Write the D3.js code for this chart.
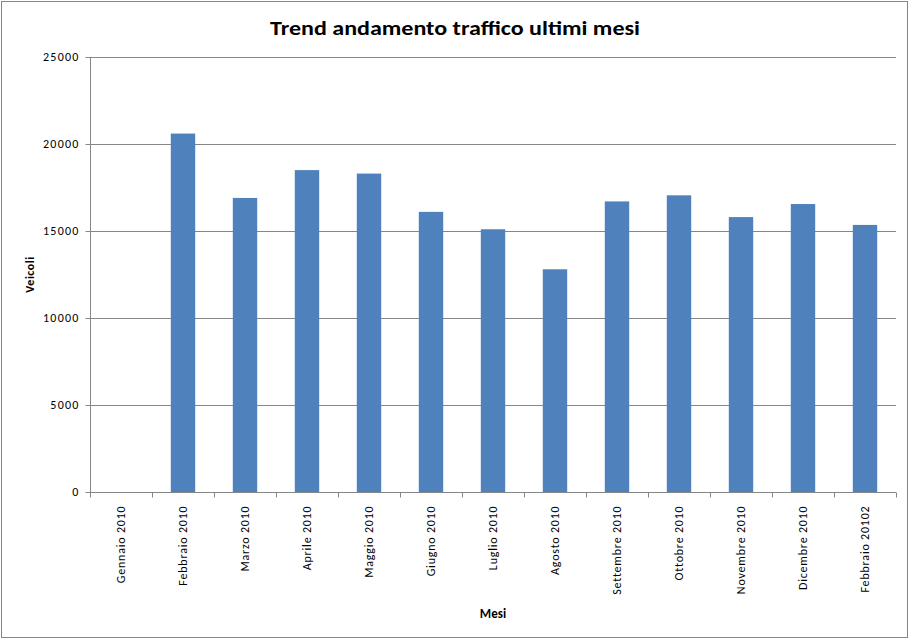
<!DOCTYPE html>
<html>
<head>
<meta charset="utf-8">
<script src="https://cdn.jsdelivr.net/npm/d3@7"></script>
<style>
  html, body { margin: 0; padding: 0; background: #fff; }
  svg { display: block; }
</style>
</head>
<body>
<svg id="chart" width="912" height="640"></svg>
<script>
const categories = ["Gennaio 2010", "Febbraio 2010", "Marzo 2010", "Aprile 2010", "Maggio 2010",
  "Giugno 2010", "Luglio 2010", "Agosto 2010", "Settembre 2010", "Ottobre 2010",
  "Novembre 2010", "Dicembre 2010", "Febbraio 20102"];
const veicoli = [0, 20600, 16900, 18500, 18300, 16100, 15100, 12800, 16700, 17050, 15800, 16550, 15350];
const yTicks = [0, 5000, 10000, 15000, 20000, 25000];
const titleText = "Trend andamento traffico ultimi mesi";
const yTitle = "Veicoli";
const xTitle = "Mesi";

const svg = d3.select("#chart");
const font = "Calibri, Carlito, 'Open Sans', 'Liberation Sans', sans-serif";
const m = { left: 90, right: 896, top: 57, bottom: 492 };

// chart border
svg.append("rect").attr("x", 1.5).attr("y", 1.5).attr("width", 906).attr("height", 636)
  .attr("fill", "#fff").attr("stroke", "#868686").attr("stroke-width", 1);

const xTick = d3.scaleBand().domain(categories).range([m.left, m.right]);
const y = d3.scaleLinear().domain([0, 25000]).range([m.bottom, m.top]);

// gridlines
svg.append("g").selectAll("line").data(yTicks.filter(d => d > 0)).join("line")
  .attr("x1", m.left).attr("x2", m.right)
  .attr("y1", d => Math.round(y(d)) + 0.5).attr("y2", d => Math.round(y(d)) + 0.5)
  .attr("stroke", "#868686").attr("stroke-width", 1);

// bars
svg.append("g").selectAll("rect").data(categories).join("rect")
  .attr("x", (d) => xTick(d) + xTick.bandwidth() / 2 - 12.2)
  .attr("width", 24.4)
  .attr("y", (d, i) => y(veicoli[i]))
  .attr("height", (d, i) => y(0) - y(veicoli[i]))
  .attr("fill", "#4F81BD");

// y axis
const yAxis = d3.axisLeft(y).tickValues(yTicks).tickSize(5).tickPadding(6).tickFormat(d3.format("d"));
const gy = svg.append("g").attr("transform", `translate(${m.left + 0.5},0)`).call(yAxis);
gy.select(".domain").attr("stroke", "#868686").attr("d", `M0,${m.top}V${m.bottom}`);
gy.selectAll(".tick line").attr("stroke", "#868686");
gy.selectAll(".tick text").attr("font-family", font).attr("font-size", 12).attr("fill", "#000")
  .attr("letter-spacing", 1.2);

// x axis
const xAxis = d3.axisBottom(xTick).tickSize(0).tickFormat("");
const gx = svg.append("g").attr("transform", `translate(0,${m.bottom + 0.5})`).call(xAxis);
gx.select(".domain").attr("stroke", "#868686").attr("d", `M${m.left},0H${m.right}`);
// tick marks at band boundaries
const bounds = categories.map(d => xTick(d)).concat([m.right]);
gx.append("g").selectAll("line").data(bounds).join("line")
  .attr("x1", d => Math.round(d) + 0.5).attr("x2", d => Math.round(d) + 0.5)
  .attr("y1", 0).attr("y2", 5).attr("stroke", "#868686");
// labels
gx.append("g").selectAll("text").data(categories).join("text")
  .attr("transform", d => `translate(${xTick(d) + xTick.bandwidth() / 2 + 4},13) rotate(-90)`)
  .attr("text-anchor", "end")
  .attr("font-family", font).attr("font-size", 12).attr("fill", "#000")
  .attr("letter-spacing", 0.8)
  .text(d => d);

// title
svg.append("text").attr("x", 455).attr("y", 35).attr("text-anchor", "middle")
  .attr("font-family", font).attr("font-weight", "bold").attr("font-size", 21)
  .attr("textLength", 370).attr("lengthAdjust", "spacingAndGlyphs")
  .attr("fill", "#000").text(titleText);

// axis titles
svg.append("text").attr("transform", `translate(34,${(m.top + m.bottom) / 2}) rotate(-90)`)
  .attr("text-anchor", "middle").attr("font-family", font).attr("font-weight", "bold")
  .attr("font-size", 12).attr("fill", "#000").attr("letter-spacing", 0.5).text(yTitle);
svg.append("text").attr("x", (m.left + m.right) / 2).attr("y", 618)
  .attr("text-anchor", "middle").attr("font-family", font).attr("font-weight", "bold")
  .attr("font-size", 13).attr("fill", "#000").text(xTitle);
</script>
</body>
</html>
